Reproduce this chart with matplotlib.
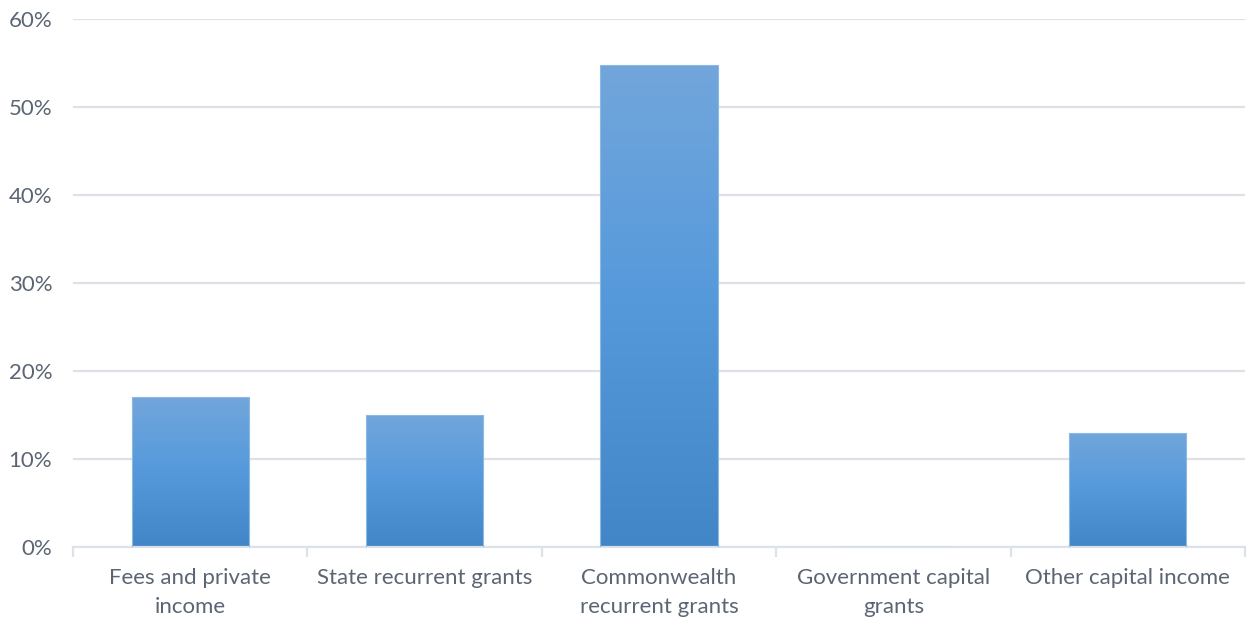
import numpy as np
import matplotlib.pyplot as plt
from matplotlib.colors import LinearSegmentedColormap
from matplotlib.ticker import FuncFormatter, MultipleLocator

categories = ['Fees and private\nincome', 'State recurrent grants',
              'Commonwealth\nrecurrent grants', 'Government capital\ngrants',
              'Other capital income']
shares = [17, 15, 54.8, 0, 13]

grid_col = '#DDE1E8'
text_col = '#5B6573'
grad = LinearSegmentedColormap.from_list('bargrad', ['#4386C8', '#5599DB', '#72A6DC'])

plt.rcParams['font.family'] = ['Lato', 'DejaVu Sans']

fig = plt.figure(figsize=(12.5, 6.22), dpi=100)
ax = fig.add_axes([0.0584, 0.1206, 0.9376, 0.8489])

x = np.arange(len(categories))
bars = ax.bar(x, shares, width=0.5, color='none', edgecolor='#8DB8E2', linewidth=0.8, zorder=3)

# vertical gradient inside each bar
g = np.linspace(0, 1, 256).reshape(-1, 1)
for b in bars:
    h = b.get_height()
    if h <= 0:
        continue
    x0 = b.get_x()
    im = ax.imshow(g, cmap=grad, origin='lower', aspect='auto',
                   extent=[x0, x0 + b.get_width(), 0, h], zorder=2)
    im.set_clip_path(b)

ax.set_xlim(-0.5, len(categories) - 0.5)
ax.set_ylim(0, 60)
ax.yaxis.set_major_locator(MultipleLocator(10))
ax.yaxis.set_major_formatter(FuncFormatter(lambda v, p: '%d%%' % v))
ax.grid(axis='y', color=grid_col, linewidth=1.6, zorder=0)
ax.set_axisbelow(True)

ax.set_xticks(x)
ax.set_xticklabels(categories, fontsize=16, color=text_col, linespacing=1.55)
ax.set_xticks(np.arange(-0.5, len(categories)), minor=True)
ax.tick_params(axis='x', which='major', length=0, pad=15)
ax.tick_params(axis='x', which='minor', length=7, width=1.6, color=grid_col)
ax.tick_params(axis='y', length=0, pad=15, labelsize=16, labelcolor=text_col)

for s in ['top', 'right', 'left']:
    ax.spines[s].set_visible(False)
ax.spines['bottom'].set_color(grid_col)
ax.spines['bottom'].set_linewidth(1.6)

fig.savefig('out.png', dpi=100, facecolor='white')
